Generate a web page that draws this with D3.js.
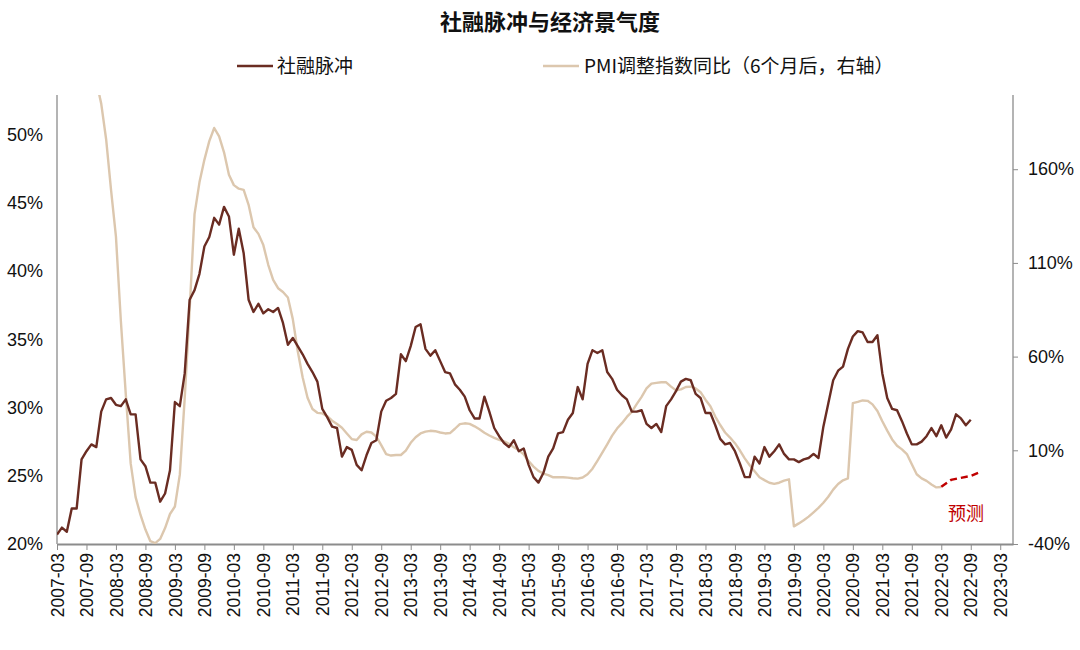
<!DOCTYPE html>
<html>
<head>
<meta charset="utf-8">
<script src="https://cdn.jsdelivr.net/npm/d3@7"></script>
<style>
  html, body { margin: 0; padding: 0; background: #fff; }
  svg { display: block; font-family: "Liberation Sans", Arial, "Noto Sans CJK SC", sans-serif; }
</style>
</head>
<body>
<svg id="chart" width="1080" height="650"></svg>
<script>
// ---------- DATA ----------
const startYear = 2007, startMonth = 3;   // first month of the series (2007-03)

// 社融脉冲 (left axis, %), monthly from 2007-03
const pulseValues = [
  20.7,21.2,20.9,22.6,22.6,26.2,26.8,27.3,27.1,29.7,30.6,30.7,
  30.2,30.1,30.6,29.5,29.5,26.2,25.7,24.5,24.5,23.1,23.7,25.4,
  30.4,30.1,32.5,37.9,38.6,39.8,41.8,42.5,43.9,43.4,44.7,44.0,
  41.2,43.1,41.3,37.9,37.0,37.6,36.9,37.2,37.0,37.3,36.2,34.6,
  35.1,34.5,33.9,33.2,32.6,31.9,29.9,29.3,28.6,28.5,26.4,27.1,
  26.9,25.8,25.4,26.5,27.4,27.6,29.7,30.5,30.7,31.0,33.9,33.4,
  34.5,35.9,36.1,34.3,33.8,34.2,33.4,32.6,32.5,31.7,31.3,30.8,
  29.8,29.2,29.2,30.8,29.7,28.5,27.9,27.4,27.1,27.6,26.8,27.0,
  25.8,24.9,24.5,25.2,26.4,27.0,28.1,28.2,29.1,29.6,31.5,30.6,
  33.2,34.2,34.0,34.2,32.6,32.1,31.3,30.9,30.6,29.7,29.7,29.8,
  28.8,28.5,28.8,28.2,30.1,30.6,31.2,31.9,32.1,32.0,31.0,30.7,
  29.6,29.6,28.7,27.7,27.3,27.4,26.8,25.9,24.9,24.9,26.4,25.9,
  27.1,26.4,26.8,27.3,26.6,26.2,26.2,26.0,26.2,26.3,26.6,26.3,
  28.6,30.3,32.0,32.7,33.0,34.3,35.2,35.6,35.5,34.8,34.8,35.3,
  32.5,30.7,29.9,29.8,29.0,28.1,27.3,27.3,27.5,27.9,28.5,27.9,
  28.7,27.8,28.4,29.5,29.2,28.7,29.1
];

// PMI调整指数同比（6个月后，右轴）(%), monthly, first value at 2007-11
const pmiOffset = 8;
const pmiValues = [
  207,195,176,149,124,79,40,3,-15,-24.5,-32.3,-38.5,
  -39.5,-37.3,-31.5,-24,-20,-3,38,85,136,153,165,175,
  182,177.5,169,157,151.5,149.6,149,141,129,125.5,119.5,109,
  101,96.5,94.5,91.5,80,63,49,38,32,30,29.7,28.2,
  25.8,24,22,19,16,15.5,18.5,19.9,19.5,17.3,12.8,8,
  7.2,7.5,7.5,9.8,14,17,19,20,20.4,20.2,19.5,19,
  19.2,21.5,24,24.4,24.1,22.8,21.2,19.4,17.9,16.6,15.6,14.8,
  13.4,11.6,10,7.8,4.2,1.3,-1,-2.4,-3.2,-4.4,-4.4,-4.4,
  -4.6,-4.9,-5.1,-4.5,-2.8,0.2,4.4,8.8,13.2,17.8,21.6,24.5,
  27.8,30.5,34.6,38.5,43,45.6,46,46.3,46.3,44,42,42.5,
  43.8,44,43,41,37,33.5,28,23.5,19.5,16.8,13.8,10,
  5.7,2,-1.2,-4.4,-5.9,-7.3,-7.9,-7.3,-6.2,-5.5,-30.6,-29,
  -27.3,-25.4,-23.1,-20.7,-18,-14.8,-11,-8,-6,-5,35.2,35.8,
  36.6,36.4,34.5,31,25.5,20.5,15.8,12.4,10.5,8,2.5,-2.8,
  -5,-6.3,-8.2,-9.8,-9.6
];

// 预测 (forecast, dashed red, right axis): [month index, value]
const forecastMonths = [180, 182, 184, 186, 188];
const forecastValues = [-9.5, -5.8, -4.7, -3.7, -1.5];

const leftTicks = [20, 25, 30, 35, 40, 45, 50];
const rightTicks = [-40, 10, 60, 110, 160];
const xTickMonths = d3.range(0, 193, 6);

const seriesNames = ["社融脉冲", "PMI调整指数同比（6个月后，右轴）"];
const titleText = "社融脉冲与经济景气度";
const forecastLabel = "预测";

// ---------- LAYOUT ----------
const svg = d3.select("#chart");
const L = 57, R = 1013, T = 95, B = 544;
const colDark = "#6A2C22", colLight = "#DCC7AE", colRed = "#C00000", axisCol = "#8c8c8c";

const x = d3.scaleLinear().domain([0, 194.6]).range([L, R]);
const yL = d3.scaleLinear().domain([20, 52.9]).range([B, T]);
const yR = d3.scaleLinear().domain([-40, 199.6]).range([B, T]);

function label(m) {
  const tot = (startYear * 12 + startMonth - 1) + m;
  const yy = Math.floor(tot / 12), mm = tot % 12 + 1;
  return yy + "-" + String(mm).padStart(2, "0");
}

svg.append("defs").append("clipPath").attr("id", "plot")
  .append("rect").attr("x", L).attr("y", T).attr("width", R - L).attr("height", B - T);

// title
svg.append("text").attr("x", 550).attr("y", 30).attr("text-anchor", "middle")
  .attr("font-size", 22).attr("font-weight", "bold").attr("fill", "#111")
  .attr("font-family", "'Noto Sans CJK SC', sans-serif").text(titleText);

// legend
const lg = svg.append("g").attr("font-size", 19).attr("fill", "#111")
  .attr("font-family", "'Noto Sans CJK SC', sans-serif");
lg.append("line").attr("x1", 237).attr("x2", 273).attr("y1", 66).attr("y2", 66)
  .attr("stroke", colDark).attr("stroke-width", 2.5);
lg.append("text").attr("x", 277).attr("y", 72.5).text(seriesNames[0]);
lg.append("line").attr("x1", 543).attr("x2", 579).attr("y1", 66).attr("y2", 66)
  .attr("stroke", colLight).attr("stroke-width", 2.5);
lg.append("text").attr("x", 584).attr("y", 72.5).text(seriesNames[1]);

// axes
const gL = svg.append("g").attr("transform", `translate(${L},0)`)
  .call(d3.axisLeft(yL).tickValues(leftTicks).tickFormat(d => d + "%").tickSize(0).tickPadding(14));
gL.select(".domain").remove();
svg.append("line").attr("x1", L).attr("x2", L).attr("y1", T).attr("y2", B).attr("stroke", axisCol).attr("stroke-width", 1.3);

const gR = svg.append("g").attr("transform", `translate(${R},0)`)
  .call(d3.axisRight(yR).tickValues(rightTicks).tickFormat(d => d + "%").tickSize(5).tickPadding(10));
gR.select(".domain").remove();
gR.selectAll(".tick line").attr("stroke", axisCol);
svg.append("line").attr("x1", R).attr("x2", R).attr("y1", T).attr("y2", B).attr("stroke", axisCol).attr("stroke-width", 1.3);

[gL, gR].forEach(g => g.selectAll("text").attr("font-size", 18).attr("fill", "#111")
  .attr("font-family", "'Liberation Sans', Arial, sans-serif"));

const gX = svg.append("g").attr("transform", `translate(0,${B})`)
  .call(d3.axisBottom(x).tickValues(xTickMonths).tickFormat(label).tickSize(6).tickSizeOuter(0));
gX.select(".domain").attr("stroke", axisCol).attr("stroke-width", 1.8);
gX.selectAll(".tick line").attr("stroke", axisCol);
gX.selectAll("text").attr("font-size", 17.5).attr("fill", "#111")
  .attr("font-family", "'Liberation Sans', Arial, sans-serif")
  .attr("text-anchor", "end").attr("dy", "0.35em")
  .attr("transform", "translate(0,6) rotate(-90)").attr("x", -3).attr("y", 0);

// lines
const plot = svg.append("g").attr("clip-path", "url(#plot)");
plot.append("path")
  .datum(pmiValues.map((v, i) => [i + pmiOffset, v]))
  .attr("fill", "none").attr("stroke", colLight).attr("stroke-width", 2.4).attr("stroke-linejoin", "round")
  .attr("d", d3.line().x(d => x(d[0])).y(d => yR(d[1])));
plot.append("path")
  .datum(pulseValues.map((v, i) => [i, v]))
  .attr("fill", "none").attr("stroke", colDark).attr("stroke-width", 2.4).attr("stroke-linejoin", "round")
  .attr("d", d3.line().x(d => x(d[0])).y(d => yL(d[1])));
plot.append("path")
  .datum(forecastMonths.map((m, i) => [m, forecastValues[i]]))
  .attr("fill", "none").attr("stroke", colRed).attr("stroke-width", 2.4).attr("stroke-dasharray", "7,4")
  .attr("d", d3.line().x(d => x(d[0])).y(d => yR(d[1])));

svg.append("text").attr("x", 966).attr("y", 520).attr("text-anchor", "middle")
  .attr("font-size", 18).attr("fill", colRed)
  .attr("font-family", "'Noto Sans CJK SC', sans-serif").text(forecastLabel);
</script>
</body>
</html>
